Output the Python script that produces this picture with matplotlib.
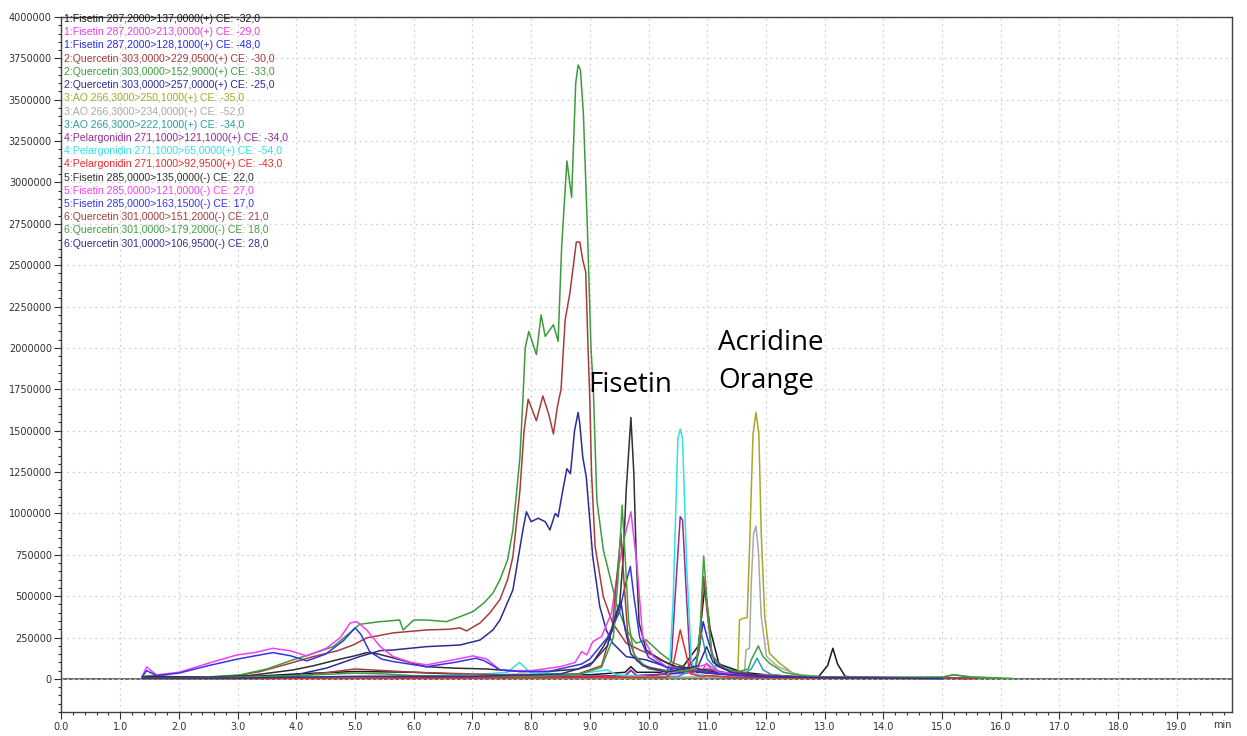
import matplotlib.pyplot as plt
from matplotlib.ticker import MultipleLocator

# chromatogram traces, time (min) and intensity
t1 = [1.38, 2.0, 3.0, 4.0, 5.0, 6.0, 7.0, 8.0, 9.0, 9.6, 9.7, 9.8, 10.2, 10.6, 10.85, 10.96, 11.05, 11.2, 11.6, 12.0, 12.5, 12.9, 13.05, 13.14, 13.22, 13.35, 13.6, 14.0, 15.0, 15.5]
i1 = [5e3, 5e3, 10e3, 30e3, 45e3, 40e3, 25e3, 20e3, 25e3, 40e3, 74e3, 40e3, 40e3, 80e3, 200e3, 558e3, 300e3, 90e3, 40e3, 25e3, 15e3, 15e3, 80e3, 185e3, 90e3, 15e3, 10e3, 8e3, 6e3, 3e3]

t2 = [1.38, 3.0, 5.0, 7.0, 9.0, 9.6, 9.7, 9.8, 10.4, 10.9, 10.99, 11.1, 11.5, 12.1, 12.5, 13.1, 14.0, 15.0, 15.6]
i2 = [5e3, 5e3, 8e3, 10e3, 10e3, 20e3, 55e3, 20e3, 30e3, 40e3, 95e3, 40e3, 20e3, 25e3, 10e3, 12e3, 6e3, 5e3, 2e3]

t3 = [1.38, 3.0, 5.0, 7.0, 9.0, 10.0, 10.6, 10.85, 10.93, 11.0, 11.15, 11.5, 12.0, 13.0, 14.0, 15.0]
i3 = [5e3, 5e3, 10e3, 10e3, 15e3, 20e3, 40e3, 150e3, 346e3, 250e3, 80e3, 30e3, 15e3, 8e3, 5e3, 3e3]

t4 = [1.38, 1.6, 2.0, 2.5, 3.0, 3.38, 3.8, 4.29, 4.7, 4.97, 5.2, 5.65, 6.22, 6.6, 6.79, 6.9, 7.13, 7.3, 7.47, 7.6, 7.69, 7.81, 7.88, 7.95, 8.09, 8.2, 8.3, 8.38, 8.45, 8.51, 8.58, 8.66, 8.77, 8.83, 8.88, 8.93, 8.97, 9.0, 9.03, 9.09, 9.23, 9.39, 9.62, 9.85, 10.13, 10.42, 10.7, 11.0, 11.5, 12.0, 13.0, 14.0, 15.0, 15.6]
i4 = [10e3, 15e3, 8e3, 10e3, 20e3, 44e3, 85e3, 135e3, 170e3, 205e3, 248e3, 278e3, 296e3, 300e3, 308e3, 290e3, 338e3, 400e3, 480e3, 600e3, 739e3, 1.14e6, 1.5e6, 1.69e6, 1.56e6, 1.71e6, 1.6e6, 1.48e6, 1.65e6, 1.75e6, 2.17e6, 2.33e6, 2.64e6, 2.64e6, 2.53e6, 2.46e6, 2.0e6, 1.69e6, 1.24e6, 800e3, 497e3, 337e3, 216e3, 175e3, 135e3, 74e3, 50e3, 35e3, 20e3, 15e3, 10e3, 8e3, 8e3, 4e3]

t5 = [1.38, 1.5, 2.0, 2.5, 3.04, 3.5, 3.94, 4.3, 4.63, 4.85, 5.08, 5.4, 5.76, 5.82, 6.0, 6.22, 6.56, 6.79, 7.01, 7.2, 7.35, 7.47, 7.6, 7.69, 7.81, 7.86, 7.9, 7.96, 8.09, 8.17, 8.24, 8.38, 8.46, 8.52, 8.61, 8.69, 8.76, 8.8, 8.84, 8.89, 8.96, 9.02, 9.06, 9.12, 9.23, 9.37, 9.45, 9.62, 9.79, 9.96, 10.2, 10.42, 10.7, 11.0, 11.5, 12.0, 12.5, 13.0, 13.5, 14.0, 14.5, 15.0, 15.2, 15.5, 16.0]
i5 = [15e3, 20e3, 10e3, 12e3, 24e3, 60e3, 115e3, 155e3, 195e3, 260e3, 330e3, 345e3, 356e3, 296e3, 356e3, 356e3, 346e3, 376e3, 407e3, 460e3, 519e3, 600e3, 720e3, 900e3, 1.34e6, 1.69e6, 2.0e6, 2.1e6, 1.96e6, 2.2e6, 2.07e6, 2.14e6, 2.04e6, 2.61e6, 3.13e6, 2.91e6, 3.6e6, 3.71e6, 3.68e6, 3.42e6, 2.71e6, 2.0e6, 1.75e6, 1.08e6, 780e3, 578e3, 459e3, 296e3, 216e3, 236e3, 157e3, 97e3, 60e3, 40e3, 25e3, 18e3, 12e3, 10e3, 8e3, 8e3, 8e3, 10e3, 25e3, 10e3, 5e3]

t6 = [1.38, 1.6, 2.5, 3.5, 4.0, 4.52, 5.08, 5.43, 5.65, 6.22, 6.79, 7.13, 7.35, 7.47, 7.69, 7.86, 7.92, 8.0, 8.12, 8.24, 8.32, 8.41, 8.46, 8.55, 8.61, 8.67, 8.74, 8.8, 8.83, 8.88, 8.94, 9.05, 9.17, 9.28, 9.39, 9.62, 9.96, 10.3, 10.7, 11.2, 12.0, 13.0, 14.0, 15.0, 15.5]
i6 = [8e3, 10e3, 8e3, 12e3, 25e3, 66e3, 135e3, 171e3, 175e3, 195e3, 205e3, 235e3, 296e3, 356e3, 538e3, 900e3, 1.01e6, 950e3, 971e3, 950e3, 900e3, 1.0e6, 980e3, 1.16e6, 1.27e6, 1.24e6, 1.5e6, 1.61e6, 1.54e6, 1.34e6, 1.22e6, 739e3, 437e3, 296e3, 216e3, 135e3, 115e3, 74e3, 45e3, 30e3, 15e3, 10e3, 8e3, 8e3, 4e3]

t7 = [1.38, 3.0, 5.0, 7.0, 9.0, 10.5, 11.3, 11.52, 11.55, 11.6, 11.68, 11.72, 11.78, 11.83, 11.88, 11.92, 11.98, 12.06, 12.23, 12.46, 12.69, 13.5, 14.5, 15.5]
i7 = [3e3, 3e3, 5e3, 5e3, 5e3, 8e3, 12e3, 15e3, 356e3, 365e3, 370e3, 780e3, 1.48e6, 1.61e6, 1.48e6, 880e3, 376e3, 155e3, 95e3, 34e3, 14e3, 8e3, 5e3, 3e3]

t8 = [1.38, 3.0, 5.0, 7.0, 7.8, 9.0, 10.5, 11.4, 11.63, 11.66, 11.72, 11.75, 11.79, 11.83, 11.87, 11.92, 12.01, 12.2, 12.5, 13.0, 14.0, 15.0]
i8 = [3e3, 5e3, 15e3, 20e3, 30e3, 15e3, 10e3, 12e3, 15e3, 175e3, 185e3, 578e3, 880e3, 924e3, 780e3, 376e3, 135e3, 75e3, 30e3, 10e3, 6e3, 3e3]

t9 = [1.38, 3.0, 5.0, 7.0, 9.0, 10.5, 10.8, 10.9, 11.0, 11.2, 11.6, 11.75, 11.85, 11.95, 12.1, 12.5, 13.0, 14.0, 15.0]
i9 = [3e3, 3e3, 5e3, 5e3, 8e3, 15e3, 60e3, 276e3, 120e3, 40e3, 25e3, 60e3, 125e3, 55e3, 25e3, 10e3, 6e3, 4e3, 2e3]

t10 = [1.38, 3.0, 5.0, 7.0, 9.0, 9.6, 9.7, 9.8, 10.3, 10.39, 10.45, 10.54, 10.58, 10.65, 10.71, 10.8, 11.0, 11.5, 12.0, 13.0, 14.0, 15.0]
i10 = [3e3, 3e3, 8e3, 10e3, 15e3, 20e3, 50e3, 20e3, 30e3, 115e3, 477e3, 980e3, 960e3, 477e3, 94e3, 50e3, 60e3, 25e3, 15e3, 8e3, 5e3, 3e3]

t11 = [1.38, 3.0, 5.0, 7.0, 7.6, 7.8, 8.0, 8.8, 9.2, 9.3, 9.45, 10.2, 10.33, 10.36, 10.42, 10.5, 10.54, 10.58, 10.65, 10.73, 10.8, 11.0, 11.5, 12.0, 13.0, 14.0, 15.0]
i11 = [3e3, 5e3, 10e3, 25e3, 40e3, 100e3, 35e3, 30e3, 50e3, 55e3, 25e3, 10e3, 20e3, 72e3, 477e3, 1.45e6, 1.51e6, 1.45e6, 679e3, 115e3, 30e3, 20e3, 10e3, 8e3, 5e3, 4e3, 2e3]

t12 = [1.38, 3.0, 5.0, 7.0, 9.0, 10.3, 10.38, 10.45, 10.54, 10.65, 10.72, 10.9, 11.0, 11.5, 12.5, 14.0, 15.0]
i12 = [2e3, 3e3, 5e3, 5e3, 8e3, 10e3, 30e3, 135e3, 296e3, 135e3, 30e3, 15e3, 20e3, 8e3, 5e3, 3e3, 2e3]

t13 = [1.38, 1.6, 2.5, 3.2, 3.94, 4.3, 4.69, 5.0, 5.2, 5.4, 5.65, 6.2, 6.7, 7.24, 7.8, 8.3, 8.8, 9.05, 9.23, 9.39, 9.51, 9.57, 9.62, 9.7, 9.75, 9.79, 9.84, 9.96, 10.2, 10.5, 10.8, 11.0, 11.3, 12.0, 13.0, 14.0, 15.0, 15.4]
i13 = [10e3, 15e3, 10e3, 20e3, 54e3, 80e3, 115e3, 140e3, 159e3, 150e3, 127e3, 74e3, 65e3, 60e3, 45e3, 45e3, 60e3, 100e3, 195e3, 296e3, 457e3, 739e3, 1.14e6, 1.58e6, 1.24e6, 739e3, 337e3, 175e3, 115e3, 70e3, 65e3, 50e3, 30e3, 15e3, 10e3, 8e3, 6e3, 3e3]

t14 = [1.38, 1.45, 1.62, 2.0, 2.24, 2.6, 2.99, 3.3, 3.6, 3.9, 4.18, 4.52, 4.75, 4.92, 5.03, 5.2, 5.43, 5.65, 5.95, 6.22, 6.67, 7.01, 7.24, 7.47, 7.7, 8.0, 8.5, 8.75, 8.86, 8.95, 9.05, 9.2, 9.37, 9.48, 9.62, 9.7, 9.8, 9.9, 10.08, 10.3, 10.7, 11.0, 11.2, 11.6, 12.0, 13.0, 14.0, 15.0, 15.5]
i14 = [20e3, 72e3, 24e3, 40e3, 66e3, 105e3, 145e3, 160e3, 185e3, 170e3, 139e3, 187e3, 250e3, 338e3, 346e3, 296e3, 195e3, 135e3, 100e3, 85e3, 115e3, 139e3, 121e3, 54e3, 50e3, 50e3, 74e3, 100e3, 165e3, 145e3, 225e3, 256e3, 400e3, 660e3, 900e3, 1.01e6, 700e3, 256e3, 135e3, 74e3, 55e3, 90e3, 40e3, 30e3, 15e3, 10e3, 8e3, 6e3, 3e3]

t15 = [1.38, 1.45, 1.62, 2.0, 2.5, 3.0, 3.6, 3.9, 4.18, 4.5, 4.8, 5.0, 5.1, 5.25, 5.45, 5.65, 6.22, 6.7, 7.06, 7.2, 7.47, 7.8, 8.3, 8.86, 9.0, 9.3, 9.5, 9.6, 9.69, 9.75, 9.85, 10.0, 10.3, 10.7, 11.0, 11.5, 12.0, 13.0, 14.0, 15.0]
i15 = [15e3, 50e3, 20e3, 35e3, 80e3, 120e3, 159e3, 140e3, 109e3, 150e3, 230e3, 308e3, 270e3, 165e3, 120e3, 105e3, 74e3, 100e3, 125e3, 110e3, 55e3, 45e3, 45e3, 90e3, 120e3, 250e3, 400e3, 560e3, 679e3, 500e3, 250e3, 130e3, 70e3, 50e3, 40e3, 20e3, 12e3, 8e3, 6e3, 3e3]

t16 = [1.38, 2.0, 3.0, 4.0, 5.0, 6.0, 7.0, 8.0, 8.8, 9.2, 9.38, 9.47, 9.53, 9.58, 9.65, 9.8, 10.0, 10.4, 10.8, 10.88, 10.94, 11.0, 11.08, 11.3, 11.8, 12.5, 13.5, 14.5, 15.5]
i16 = [5e3, 5e3, 8e3, 15e3, 60e3, 40e3, 30e3, 20e3, 30e3, 80e3, 300e3, 650e3, 880e3, 600e3, 250e3, 110e3, 70e3, 45e3, 50e3, 250e3, 618e3, 400e3, 140e3, 60e3, 25e3, 12e3, 8e3, 6e3, 3e3]

t17 = [1.38, 2.0, 3.0, 4.0, 5.0, 5.5, 6.0, 7.0, 8.0, 8.8, 9.2, 9.4, 9.48, 9.55, 9.6, 9.66, 9.75, 9.9, 10.0, 10.2, 10.5, 10.8, 10.88, 10.94, 11.0, 11.08, 11.2, 11.5, 11.7, 11.75, 11.87, 11.95, 12.06, 12.3, 12.6, 13.0, 14.0, 15.0, 15.2, 15.5, 16.2]
i17 = [5e3, 5e3, 10e3, 20e3, 35e3, 30e3, 20e3, 15e3, 15e3, 25e3, 70e3, 250e3, 600e3, 1.05e6, 750e3, 350e3, 150e3, 90e3, 60e3, 50e3, 45e3, 60e3, 300e3, 743e3, 450e3, 150e3, 80e3, 40e3, 60e3, 115e3, 199e3, 135e3, 95e3, 40e3, 20e3, 10e3, 8e3, 10e3, 25e3, 12e3, 3e3]

t18 = [1.38, 3.0, 5.0, 7.0, 8.5, 9.0, 9.3, 9.45, 9.53, 9.6, 9.7, 9.9, 10.3, 10.85, 10.99, 11.1, 11.4, 12.0, 13.0, 14.0, 15.0]
i18 = [5e3, 5e3, 15e3, 15e3, 30e3, 80e3, 200e3, 400e3, 467e3, 300e3, 150e3, 80e3, 40e3, 80e3, 195e3, 100e3, 40e3, 15e3, 8e3, 5e3, 3e3]

trace_names = [
    '1:Fisetin 287,2000>137,0000(+) CE: -32,0',
    '1:Fisetin 287,2000>213,0000(+) CE: -29,0',
    '1:Fisetin 287,2000>128,1000(+) CE: -48,0',
    '2:Quercetin 303,0000>229,0500(+) CE: -30,0',
    '2:Quercetin 303,0000>152,9000(+) CE: -33,0',
    '2:Quercetin 303,0000>257,0000(+) CE: -25,0',
    '3:AO 266,3000>250,1000(+) CE: -35,0',
    '3:AO 266,3000>234,0000(+) CE: -52,0',
    '3:AO 266,3000>222,1000(+) CE: -34,0',
    '4:Pelargonidin 271,1000>121,1000(+) CE: -34,0',
    '4:Pelargonidin 271,1000>65,0000(+) CE: -54,0',
    '4:Pelargonidin 271,1000>92,9500(+) CE: -43,0',
    '5:Fisetin 285,0000>135,0000(-) CE: 22,0',
    '5:Fisetin 285,0000>121,0000(-) CE: 27,0',
    '5:Fisetin 285,0000>163,1500(-) CE: 17,0',
    '6:Quercetin 301,0000>151,2000(-) CE: 21,0',
    '6:Quercetin 301,0000>179,2000(-) CE: 18,0',
    '6:Quercetin 301,0000>106,9500(-) CE: 28,0',
]
trace_colors = ['#1a1a1a', '#e83ce8', '#2a2ae0', '#a83c3c', '#3c9c3c', '#2c2c98',
                '#a8a828', '#a8a8a8', '#28a0a0', '#942c94', '#30e0e8', '#f02828',
                '#303030', '#f040f0', '#3434e8', '#a04040', '#40a040', '#303090']

times = [t1, t2, t3, t4, t5, t6, t7, t8, t9, t10, t11, t12, t13, t14, t15, t16, t17, t18]
intens = [i1, i2, i3, i4, i5, i6, i7, i8, i9, i10, i11, i12, i13, i14, i15, i16, i17, i18]

fig = plt.figure(figsize=(12.47, 7.36), dpi=100)
ax = fig.add_axes([0.0493, 0.0326, 0.9387, 0.9443])

for t, y, c in zip(times, intens, trace_colors):
    ax.plot(t, y, color=c, lw=1.1)

ax.axhline(0, color='#505050', lw=1.2, zorder=1)

ax.set_xlim(0, 19.94)
ax.set_ylim(-200000, 4000000)
ax.set_xticks([float(k) for k in range(20)])
ax.set_xticklabels(['%.1f' % k for k in range(20)])
ax.set_yticks(range(0, 4000001, 250000))
ax.set_yticklabels([str(v) for v in range(0, 4000001, 250000)])
ax.xaxis.set_minor_locator(MultipleLocator(0.2))
ax.yaxis.set_minor_locator(MultipleLocator(50000))
ax.tick_params(which='major', direction='out', length=5, width=0.8, colors='#303030', labelsize=7, pad=2)
ax.tick_params(which='minor', direction='out', length=2.5, width=0.8, colors='#303030')
ax.grid(True, which='major', color='#d0d0d0', linestyle=(0, (1.5, 3)), lw=0.9)
for s in ax.spines.values():
    s.set_color('#404040')
    s.set_linewidth(1.0)

ax.text(19.77, -0.011, 'min', transform=ax.get_xaxis_transform(), ha='center', va='top', fontsize=7, color='#303030')

# legend block
for k, (name, c) in enumerate(zip(trace_names, trace_colors)):
    ax.text(0.002, 0.997 - k * 0.019, name, transform=ax.transAxes, color=c,
            fontsize=7.6, family='Liberation Sans', va='center', ha='left')

ax.text(8.97, 1.736e6, 'Fisetin', fontsize=20, family='Open Sans', va='baseline')
ax.text(11.19, 1.988e6, 'Acridine', fontsize=20, family='Open Sans', va='baseline')
ax.text(11.19, 1.756e6, 'Orange', fontsize=20, family='Open Sans', va='baseline')

fig.savefig('out.png', dpi=100)
